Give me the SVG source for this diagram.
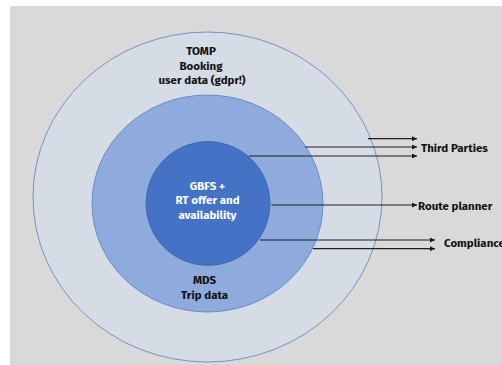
<svg xmlns="http://www.w3.org/2000/svg" width="502" height="365" viewBox="0 0 502 365">
<defs>
<marker id="ah" viewBox="0 0 10 10" refX="10" refY="5" markerWidth="5" markerHeight="5" orient="auto" markerUnits="userSpaceOnUse">
<path d="M0,0 L10,5 L0,10 Z" fill="#1a1a1a"/>
</marker>
<style>
.t{font-family:"Fira Sans","Open Sans","Liberation Sans",sans-serif;font-weight:bold;font-size:11.5px;fill:#111}
.w{fill:#fff}
.c{stroke:#1f1f1f;stroke-width:1.2;fill:none;marker-end:url(#ah)}
</style>
</defs>
<rect x="0" y="0" width="502" height="365" fill="#fff"/>
<rect x="10" y="6" width="492" height="359" fill="#d9d9d9"/>
<g id="outer">
<ellipse cx="207.5" cy="197" rx="174.5" ry="165" fill="#d6dce5" stroke="#5a7fc0" stroke-width="0.8"/>
<text class="t" text-anchor="middle" x="201" y="55">TOMP</text>
<text class="t" text-anchor="middle" x="201" y="69.5">Booking</text>
<text class="t" text-anchor="middle" x="202" y="84">user data (gdpr!)</text>
</g>
<g id="middle">
<ellipse cx="207.5" cy="203.5" rx="115.5" ry="108.5" fill="#8faadc" stroke="#5a7fc0" stroke-width="0.8"/>
<text class="t" text-anchor="middle" x="204.5" y="284">MDS</text>
<text class="t" text-anchor="middle" x="204.5" y="298.5">Trip data</text>
</g>
<g id="inner">
<circle cx="208" cy="203.5" r="62" fill="#4472c4" stroke="#3a62a8" stroke-width="0.8"/>
<text class="t w" text-anchor="middle" x="207.5" y="189.5">GBFS +</text>
<text class="t w" text-anchor="middle" x="207.5" y="204">RT offer and</text>
<text class="t w" text-anchor="middle" x="207.5" y="219">availability</text>
</g>
<g id="connectors">
<line class="c" x1="368" y1="138.7" x2="417" y2="138.7"/>
<line class="c" x1="305" y1="147" x2="417" y2="147"/>
<line class="c" x1="249" y1="156" x2="417" y2="156"/>
<line class="c" x1="271.5" y1="205" x2="417" y2="205"/>
<line class="c" x1="260" y1="240" x2="435" y2="240"/>
<line class="c" x1="313" y1="248.7" x2="435" y2="248.7"/>
</g>
<g id="labels">
<text class="t" x="421" y="152">Third Parties</text>
<text class="t" x="418" y="210">Route planner</text>
<text class="t" x="444" y="247">Compliance</text>
</g>
</svg>
